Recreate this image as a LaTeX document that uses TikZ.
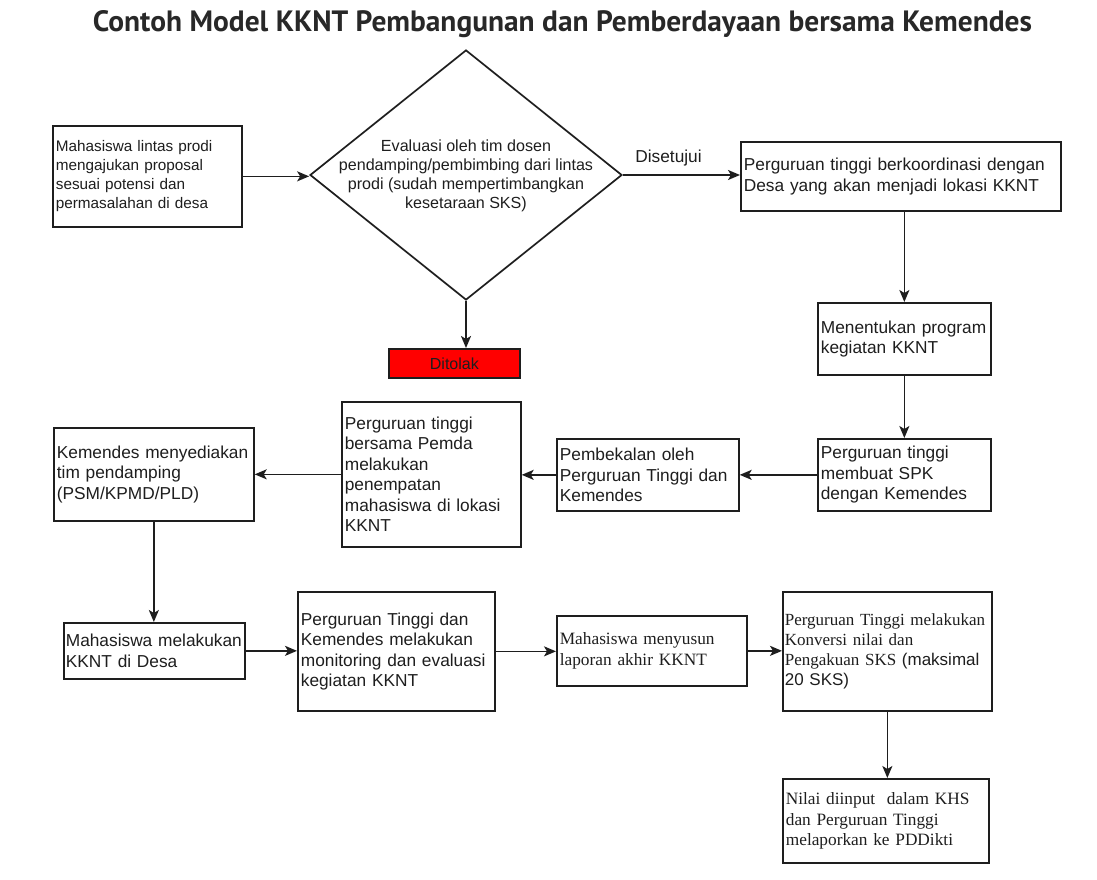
\documentclass[tikz,border=0pt]{standalone}
\usepackage{fontspec}
\setmainfont{Liberation Sans}
\newfontfamily\serifjf{Liberation Serif}
\newfontfamily\titlefont{PT Sans}
\usetikzlibrary{shapes.geometric,arrows.meta}
\definecolor{lc}{RGB}{30,30,30}
\definecolor{tc}{RGB}{30,30,30}
\definecolor{ttc}{RGB}{40,40,40}
\definecolor{redbox}{RGB}{255,0,0}
\tikzset{
  boxline/.style={draw=lc, line width=1.7pt},
  box/.style={boxline, rectangle, anchor=north west, inner xsep=3pt, inner ysep=0pt,
    align=left, text=tc, font=\fontsize{17.3}{20.5}\selectfont},
  arr/.style={draw=lc, line width=1.7pt, -{Stealth[length=12pt,width=10pt,inset=3pt]}},
  lbl/.style={text=tc, font=\fontsize{17.3}{20.5}\selectfont},
}
\begin{document}
\begin{tikzpicture}[x=1pt,y=-1pt]
\useasboundingbox[fill=white] (0,0) rectangle (1097,880);

\node[anchor=base, text=ttc] (title) at (562.5,32)
  {\resizebox{939pt}{!}{\titlefont\bfseries Contoh Model KKNT Pembangunan dan Pemberdayaan bersama Kemendes}};

\node[box, minimum width=189pt, minimum height=101pt, text width=183pt,
  font=\fontsize{15.3}{19}\selectfont] (A) at (52,125)
  {Mahasiswa lintas prodi\\mengajukan proposal\\sesuai potensi dan\\permasalahan di desa};

\node[boxline, diamond, minimum width=312pt, minimum height=250pt, inner sep=0pt, aspect=1.25] (Dm) at (466,175) {};
\node[align=center, text=tc, font=\fontsize{16.1}{19.2}\selectfont] (Dmt) at (466,176)
  {Evaluasi oleh tim dosen\\pendamping/pembimbing dari lintas\\prodi (sudah mempertimbangkan\\kesetaraan SKS)};

\node[box, minimum width=320pt, minimum height=69pt, text width=314pt] (B) at (740,141)
  {Perguruan tinggi berkoordinasi dengan\\Desa yang akan menjadi lokasi KKNT};

\node[box, minimum width=173pt, minimum height=72pt, text width=167pt] (C) at (817,302)
  {Menentukan program\\kegiatan KKNT};

\node[box, minimum width=173pt, minimum height=72pt, text width=167pt] (D) at (817,438)
  {Perguruan tinggi\\membuat SPK\\dengan Kemendes};

\node[box, minimum width=182pt, minimum height=72pt, text width=176pt] (E) at (556,438)
  {Pembekalan oleh\\Perguruan Tinggi dan\\Kemendes};

\node[box, minimum width=179pt, minimum height=145pt, text width=173pt] (F) at (341,401)
  {Perguruan tinggi\\bersama Pemda\\melakukan\\penempatan\\mahasiswa di lokasi\\KKNT};

\node[box, minimum width=200pt, minimum height=93pt, text width=194pt] (G) at (53,427)
  {Kemendes menyediakan\\tim pendamping\\(PSM/KPMD/PLD)};

\node[box, minimum width=181pt, minimum height=56pt, text width=177pt, inner xsep=2pt] (H) at (63,622)
  {Mahasiswa melakukan\\KKNT di Desa};

\node[box, minimum width=197pt, minimum height=119pt, text width=191pt] (I) at (297,591)
  {Perguruan Tinggi dan\\Kemendes melakukan\\monitoring dan evaluasi\\kegiatan KKNT};

\node[box, minimum width=190pt, minimum height=70pt, text width=184pt,
  font=\serifjf\fontsize{17.3}{20.5}\selectfont] (J) at (556,615)
  {Mahasiswa menyusun\\laporan akhir KKNT};

\node[box, minimum width=209pt, minimum height=119pt, text width=205pt, inner xsep=2pt,
  font=\fontsize{17}{20.3}\selectfont] (K) at (782,591)
  {{\serifjf Perguruan Tinggi melakukan}\\{\serifjf Konversi nilai dan}\\{\serifjf Pengakuan SKS} (maksimal\\20 SKS)};

\node[box, minimum width=206pt, minimum height=84pt, text width=200pt,
  font=\serifjf\fontsize{17.3}{20.3}\selectfont] (L) at (782,778)
  {Nilai diinput\ \ dalam KHS\\dan Perguruan Tinggi\\melaporkan ke PDDikti};

\node[boxline, rectangle, fill=redbox, anchor=north west, minimum width=131pt, minimum height=29pt,
  inner sep=0pt, text=tc, font=\fontsize{16}{19}\selectfont] (T) at (388,348) {Ditolak};

\draw[arr] (A.east) -- (A.east -| Dm.west);
\draw[arr] (Dm.east) -- node[pos=0.39, above=5pt, lbl] (ds) {Disetujui} (Dm.east -| B.west);
\draw[arr] (Dm.south) -- (Dm.south |- T.north);
\draw[arr] (C.north |- B.south) -- (C.north);
\draw[arr] (C.south) -- (D.north);
\draw[arr] (D.west) -- (D.west -| E.east);
\draw[arr] (E.west) -- (E.west -| F.east);
\draw[arr] (F.west) -- (F.west -| G.east);
\draw[arr] (G.south) -- (G.south |- H.north);
\draw[arr] (H.east) -- (H.east -| I.west);
\draw[arr] (I.east) -- (I.east -| J.west);
\draw[arr] (J.east) -- (J.east -| K.west);
\draw[arr] (K.south) -- (K.south |- L.north);
\end{tikzpicture}
\end{document}
